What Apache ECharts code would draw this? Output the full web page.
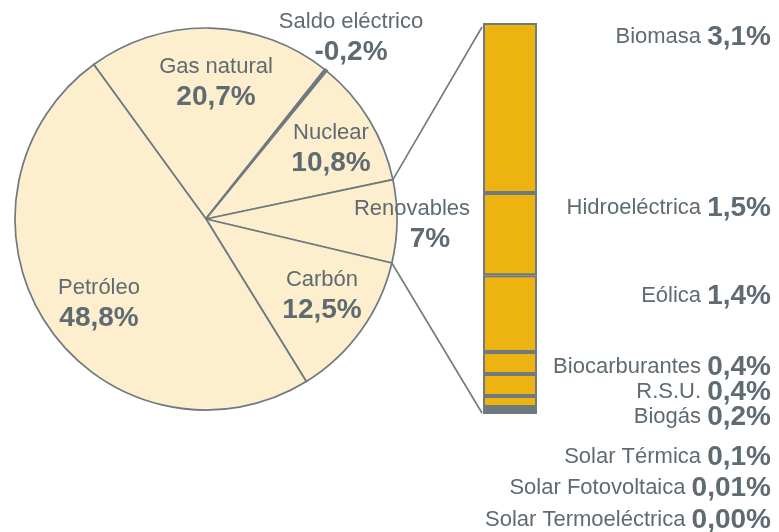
<!DOCTYPE html>
<html>
<head>
<meta charset="utf-8">
<script src="https://cdn.jsdelivr.net/npm/echarts@6/dist/echarts.min.js"></script>
<style>
  html, body { margin: 0; padding: 0; background: #fff; }
  #chart { width: 779px; height: 532px; }
</style>
</head>
<body>
<div id="chart"></div>
<script>
// consumo de energía primaria (%)
const pieNames = ['Gas natural', 'Saldo eléctrico', 'Nuclear', 'Renovables', 'Carbón', 'Petróleo'];
const pieValues = [20.7, -0.2, 10.8, 7, 12.5, 48.8];
const pieDecimals = [1, 1, 1, 0, 1, 1];

// desglose de renovables (%), de arriba a abajo
const renNames = ['Biomasa', 'Hidroeléctrica', 'Eólica', 'Biocarburantes', 'R.S.U.', 'Biogás',
  'Solar Térmica', 'Solar Fotovoltaica', 'Solar Termoeléctrica'];
const renValues = [3.1, 1.5, 1.4, 0.4, 0.4, 0.2, 0.1, 0.01, 0.00];
const renDecimals = [1, 1, 1, 1, 1, 1, 1, 2, 2];

// estilos
const textGray = '#5f6b72';
const lineGray = '#6e7a80';
const pieFill = '#fdeecd';
const orange = '#edb311';
const renColors = [orange, orange, orange, orange, orange, orange, lineGray, lineGray, lineGray];
const pieLabelPos = [[216, 82], [351, 37], [331, 148], [412, 224], [322, 295], [99, 303]];
const renLabelY = [37, 208, 296, 367, 392, 417, 457, 488, 520];
const font = 'Liberation Sans';

function fmt(v, d) {
  return v.toFixed(d).replace('.', ',') + '%';
}

const richStyles = {
  n: { fontFamily: font, fontSize: 22, color: textGray, lineHeight: 30 },
  v: { fontFamily: font, fontSize: 28, fontWeight: 'bold', color: textGray, lineHeight: 30 },
  vr: { fontFamily: font, fontSize: 28, fontWeight: 'bold', color: textGray, lineHeight: 30, padding: [0, 0, 0, 36] }
};

const total = renValues.reduce((a, b) => a + b, 0);

const chart = echarts.init(document.getElementById('chart'), null, { renderer: 'canvas' });

const pieSeries = {
  type: 'pie',
  center: [206, 219],
  radius: 191,
  startAngle: 126,
  clockwise: true,
  silent: true,
  z: 3,
  data: pieNames.map((name, i) => ({
    name: name,
    value: Math.abs(pieValues[i]),
    itemStyle: pieValues[i] < 0
      ? { color: lineGray, borderColor: lineGray, borderWidth: 2.6 }
      : { color: pieFill, borderColor: lineGray, borderWidth: 1.7 }
  })),
  label: {
    show: true,
    position: 'inside',
    formatter: (p) => {
      const i = p.dataIndex;
      const vKey = i === 3 ? 'vr' : 'v';
      return '{n|' + pieNames[i] + '}\n{' + vKey + '|' + fmt(pieValues[i], pieDecimals[i]) + '}';
    },
    rich: richStyles
  },
  labelLine: { show: false },
  labelLayout: (p) => ({
    x: pieLabelPos[p.dataIndex][0],
    y: pieLabelPos[p.dataIndex][1],
    align: 'center',
    verticalAlign: 'middle'
  })
};

// barras apiladas: la primera serie queda abajo, así que se recorre al revés
const barSeries = renNames.map((name, i) => ({
  type: 'bar',
  name: name,
  stack: 'ren',
  barWidth: '100%',
  silent: true,
  data: [renValues[i]],
  itemStyle: { color: renColors[i], borderColor: lineGray, borderWidth: 2 },
  label: {
    show: true,
    position: 'right',
    formatter: '{n|' + name + ' }{v|' + fmt(renValues[i], renDecimals[i]) + '}',
    rich: richStyles
  },
  labelLayout: () => ({ x: 771, y: renLabelY[i], align: 'right', verticalAlign: 'middle' })
})).reverse();

chart.setOption({
  animation: false,
  backgroundColor: '#fff',
  grid: { left: 483, top: 23, width: 54, height: 390, containLabel: false },
  xAxis: { type: 'category', data: ['Renovables'], show: false },
  yAxis: { type: 'value', min: 0, max: total, show: false },
  series: [pieSeries].concat(barSeries)
});

// líneas que unen la porción de renovables con la barra
const lay = chart.getModel().getSeriesByIndex(0).getData().getItemLayout(3);
const p1 = [lay.cx + lay.r * Math.cos(lay.startAngle), lay.cy + lay.r * Math.sin(lay.startAngle)];
const p2 = [lay.cx + lay.r * Math.cos(lay.endAngle), lay.cy + lay.r * Math.sin(lay.endAngle)];
const upper = p1[1] < p2[1] ? p1 : p2;
const lower = p1[1] < p2[1] ? p2 : p1;
const barTop = chart.convertToPixel({ xAxisIndex: 0, yAxisIndex: 0 }, [0, total]);
const barBottom = chart.convertToPixel({ xAxisIndex: 0, yAxisIndex: 0 }, [0, 0]);
const rect = chart.getModel().getComponent('grid', 0).coordinateSystem.getRect();

chart.setOption({
  graphic: [
    { type: 'line', z: 1, shape: { x1: upper[0], y1: upper[1], x2: rect.x - 1, y2: barTop[1] + 4 },
      style: { stroke: lineGray, lineWidth: 1.6 } },
    { type: 'line', z: 1, shape: { x1: lower[0], y1: lower[1], x2: rect.x - 1, y2: barBottom[1] },
      style: { stroke: lineGray, lineWidth: 1.6 } }
  ]
});
</script>
</body>
</html>
